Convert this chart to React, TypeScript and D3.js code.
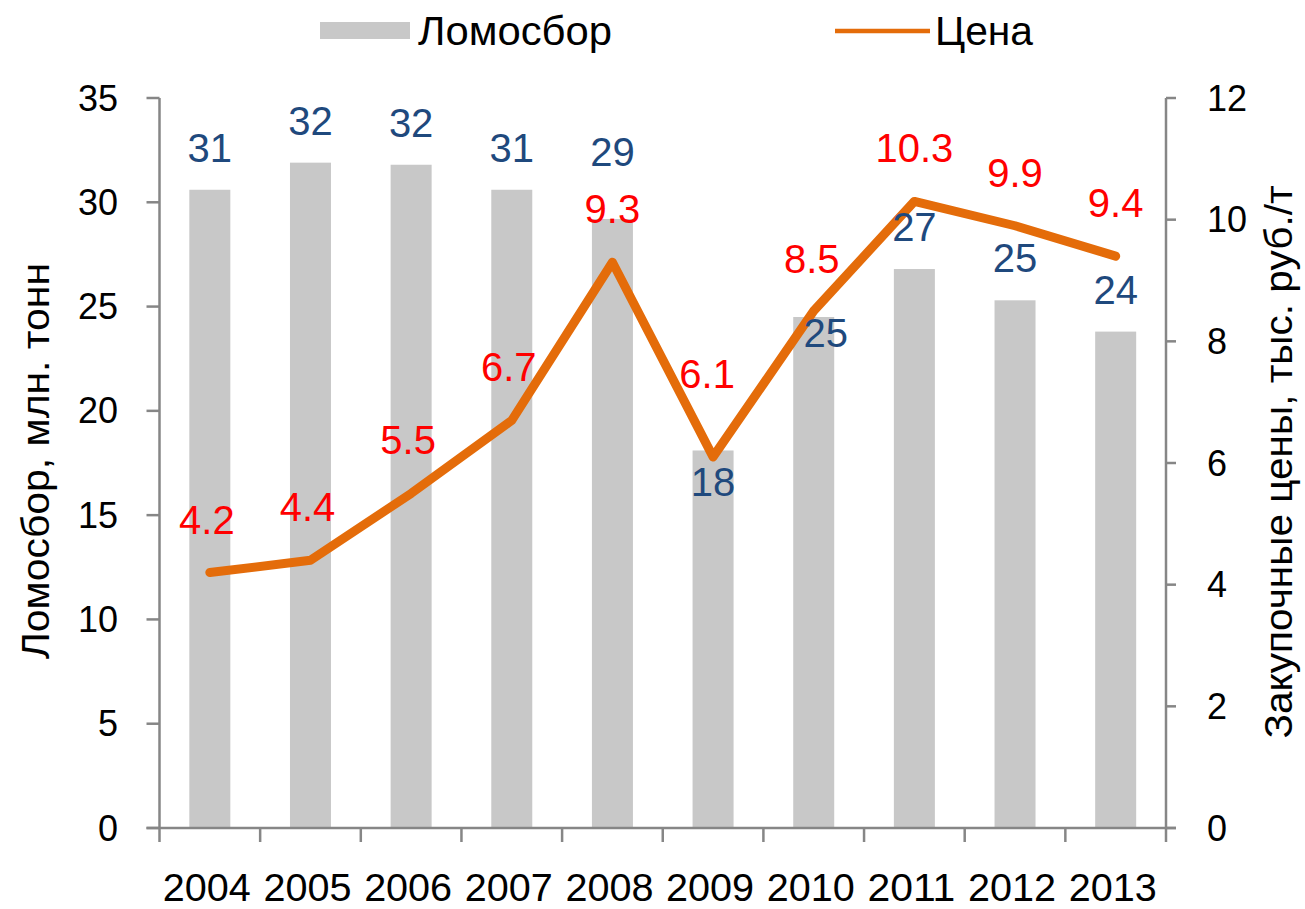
import React from "react";
import * as d3 from "d3";

const years = ["2004", "2005", "2006", "2007", "2008", "2009", "2010", "2011", "2012", "2013"];
const scrapVolume = [30.6, 31.9, 31.8, 30.6, 29.2, 18.1, 24.5, 26.8, 25.3, 23.8];
const scrapPrice = [4.2, 4.4, 5.5, 6.7, 9.3, 6.1, 8.5, 10.3, 9.9, 9.4];
const leftTicks = [0, 5, 10, 15, 20, 25, 30, 35];
const rightTicks = [0, 2, 4, 6, 8, 10, 12];
const seriesNames = ["Ломосбор", "Цена"];
const leftTitle = "Ломосбор, млн. тонн";
const rightTitle = "Закупочные цены, тыс. руб./т";

// label placement tweaks (pixels), separate from data
const barLabelDy = [-28, -28, -28, -28, -53, 46, 30, -28, -28, -28];
const barLabelDx = [0, 0, 0, 0, 0, 0, 12, 0, 0, 0];
const lineLabelDy = [-39, -39, -39, -39, -39, -69, -38, -39, -39, -39];
const lineLabelDx = [-3, -3, -3, -3, 0, -6, -2, 0, 0, 0];

const FONT = "'Liberation Sans', Arial, sans-serif";
const AXIS = "#868686";
const BAR = "#C8C8C8";
const LINE = "#E46C0A";
const BLUE = "#1F497D";
const RED = "#FF0000";

export default function App() {
  const W = 1305, H = 909;
  const left = 159.5, right = 1166, top = 98, bottom = 828;
  const x = d3.scaleBand<string>().domain(years).range([left, right]).padding(0);
  const yL = d3.scaleLinear().domain([0, 35]).range([bottom, top]);
  const yR = d3.scaleLinear().domain([0, 12]).range([bottom, top]);
  const bw = 41;
  const cx = (y: string) => (x(y) as number) + x.bandwidth() / 2;
  const line = d3.line<number>().x((_, i) => cx(years[i])).y((d) => yR(d));
  const fmt0 = d3.format(".0f");
  const fmt1 = d3.format(".1f");
  const xTicks = d3.range(years.length + 1).map((i) => left + i * x.step());

  return (
    <svg width={W} height={H} style={{ position: "absolute", left: 0, top: 0, background: "#fff" }} fontFamily={FONT}>
      {/* bars */}
      {scrapVolume.map((v, i) => (
        <rect key={"b" + i} x={cx(years[i]) - bw / 2} y={yL(v)} width={bw} height={bottom - yL(v)} fill={BAR} />
      ))}
      {/* axes */}
      <line x1={left} x2={left} y1={top} y2={bottom} stroke={AXIS} strokeWidth={2.5} />
      <line x1={right} x2={right} y1={top} y2={bottom} stroke={AXIS} strokeWidth={2.5} />
      <line x1={left - 13} x2={right + 10} y1={bottom} y2={bottom} stroke={AXIS} strokeWidth={2.5} />
      {leftTicks.map((t) => (
        <g key={"lt" + t}>
          <line x1={left - 13} x2={left} y1={yL(t)} y2={yL(t)} stroke={AXIS} strokeWidth={2.5} />
          <text x={118} y={yL(t) + 12.5} textAnchor="end" fontSize={36} fill="#000">{t}</text>
        </g>
      ))}
      {rightTicks.map((t) => (
        <g key={"rt" + t}>
          <line x1={right} x2={right + 10} y1={yR(t)} y2={yR(t)} stroke={AXIS} strokeWidth={2.5} />
          <text x={1207} y={yR(t) + 12.5} textAnchor="start" fontSize={36} fill="#000">{t}</text>
        </g>
      ))}
      {xTicks.map((tx, i) => (
        <line key={"xt" + i} x1={tx} x2={tx} y1={bottom} y2={bottom + 14} stroke={AXIS} strokeWidth={2.5} />
      ))}
      {years.map((yr) => (
        <text key={"yr" + yr} x={cx(yr) - 3} y={901} textAnchor="middle" fontSize={39} fill="#000"
          textLength={88} lengthAdjust="spacingAndGlyphs">{yr}</text>
      ))}
      {/* line */}
      <path d={line(scrapPrice) || ""} fill="none" stroke={LINE} strokeWidth={9} strokeLinejoin="round" strokeLinecap="round" />
      {/* bar labels */}
      {scrapVolume.map((v, i) => (
        <text key={"bl" + i} x={cx(years[i]) + barLabelDx[i]} y={yL(v) + barLabelDy[i]} textAnchor="middle" fontSize={40} fill={BLUE}>{fmt0(v)}</text>
      ))}
      {/* line labels */}
      {scrapPrice.map((v, i) => (
        <text key={"ll" + i} x={cx(years[i]) + lineLabelDx[i]} y={yR(v) + lineLabelDy[i]} textAnchor="middle" fontSize={40} fill={RED}>{fmt1(v)}</text>
      ))}
      {/* axis titles */}
      <text transform={`translate(49,${(top + bottom) / 2 - 2}) rotate(-90)`} textAnchor="middle" fontSize={38} fill="#000"
        textLength={396} lengthAdjust="spacingAndGlyphs">{leftTitle}</text>
      <text transform={`translate(1292,${(top + bottom) / 2 - 1}) rotate(-90)`} textAnchor="middle" fontSize={38} fill="#000"
        textLength={553} lengthAdjust="spacingAndGlyphs">{rightTitle}</text>
      {/* legend */}
      <rect x={320} y={22} width={90} height={17} fill={BAR} />
      <text x={418} y={45} fontSize={41} fill="#000" textLength={194} lengthAdjust="spacingAndGlyphs">{seriesNames[0]}</text>
      <line x1={835} x2={930} y1={31} y2={31} stroke={LINE} strokeWidth={4.5} />
      <text x={935} y={45} fontSize={41} fill="#000" textLength={98} lengthAdjust="spacingAndGlyphs">{seriesNames[1]}</text>
    </svg>
  );
}
